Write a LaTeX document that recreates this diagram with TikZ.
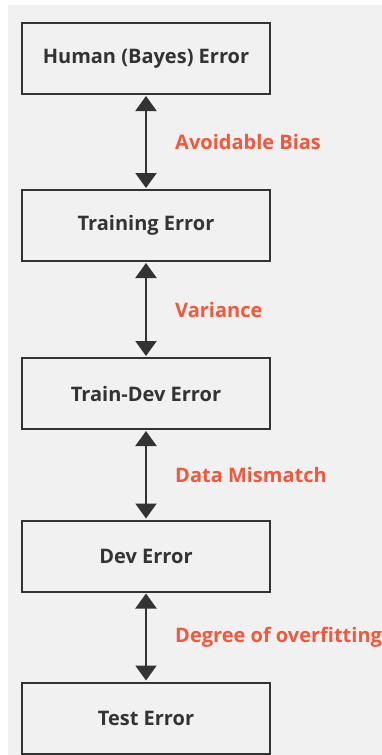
\documentclass[tikz,border=0pt]{standalone}
\usepackage{fontspec}
\setmainfont{Open Sans}
\usetikzlibrary{arrows.meta}
\definecolor{panel}{HTML}{F1F1F1}
\definecolor{ink}{HTML}{333333}
\definecolor{lab}{HTML}{F4573A}
\tikzset{
  errbox/.style={draw=ink, line width=2pt, fill=panel, minimum width=248pt, minimum height=71pt, inner sep=0pt, font=\fontsize{20}{24}\selectfont\bfseries, text=ink},
  dbl/.style={draw=ink, line width=2.2pt, {Triangle[length=15pt,width=21pt]}-{Triangle[length=15pt,width=21pt]}, shorten <=1pt, shorten >=1pt},
  gaplabel/.style={anchor=west, text=lab, font=\fontsize{20}{24}\selectfont\bfseries, inner sep=0pt}
}
\begin{document}
\begin{tikzpicture}[x=1pt,y=-1pt]
\useasboundingbox (0,0) rectangle (382,755);
\fill[white] (0,0) rectangle (382,755);
\fill[panel] (8,5) rectangle (382,755);
\node[errbox] (h) at (146,58.5) {Human (Bayes) Error};
\node[errbox] (t) at (146,225.5) {Training Error};
\node[errbox] (td) at (146,393.5) {Train-Dev Error};
\node[errbox] (d) at (146,556) {Dev Error};
\node[errbox] (te) at (146,718) {Test Error};
\draw[dbl] (h.south) -- (t.north);
\draw[dbl] (t.south) -- (td.north);
\draw[dbl] (td.south) -- (d.north);
\draw[dbl] (d.south) -- (te.north);
\node[gaplabel] (l1) at (175,142) {Avoidable Bias};
\node[gaplabel] (l2) at (175,310) {Variance};
\node[gaplabel] (l3) at (175,475) {Data Mismatch};
\node[gaplabel] (l4) at (175,637) {Degree of overfitting};
\end{tikzpicture}
\end{document}
